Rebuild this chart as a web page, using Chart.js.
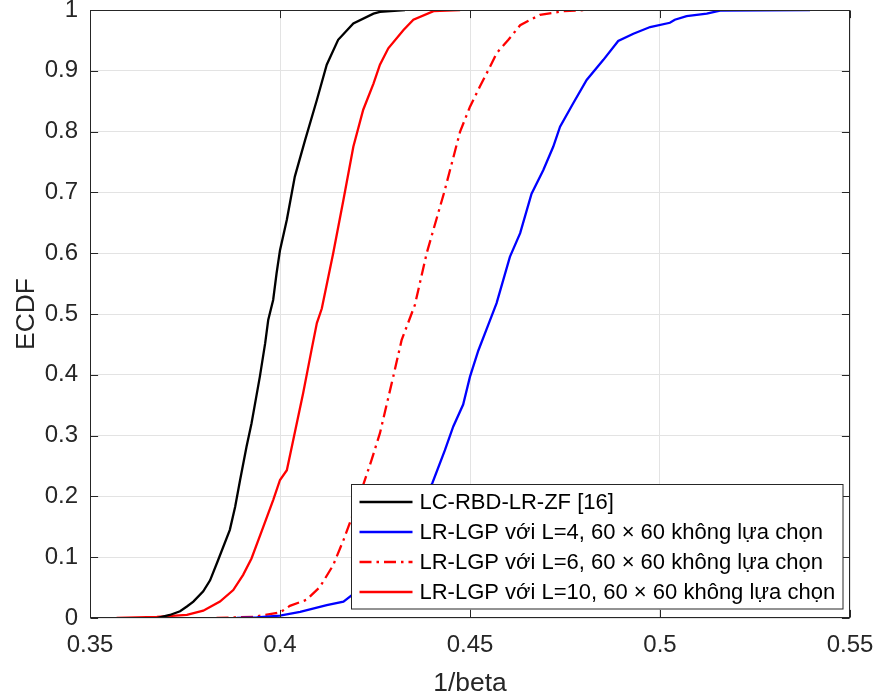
<!DOCTYPE html>
<html>
<head>
<meta charset="utf-8">
<script src="https://cdn.jsdelivr.net/npm/chart.js@4"></script>
<style>
  body { margin: 0; background: #fff; }
</style>
</head>
<body>
<canvas id="chart" width="876" height="697"></canvas>
<script>
const ctx = document.querySelector('#chart')

const x_ticks = [0.35, 0.4, 0.45, 0.5, 0.55]
const x_tick_labels = ['0.35', '0.4', '0.45', '0.5', '0.55']
const y_ticks = [0, 0.1, 0.2, 0.3, 0.4, 0.5, 0.6, 0.7, 0.8, 0.9, 1]
const y_tick_labels = ['0', '0.1', '0.2', '0.3', '0.4', '0.5', '0.6', '0.7', '0.8', '0.9', '1']

const series_names = [
    'LC-RBD-LR-ZF [16]',
    'LR-LGP với L=4, 60 × 60 không lựa chọn',
    'LR-LGP với L=6, 60 × 60 không lựa chọn',
    'LR-LGP với L=10, 60 × 60 không lựa chọn',
]

// LC-RBD-LR-ZF [16]
const zf_x = [0.3676, 0.3710, 0.3737, 0.3755, 0.3772, 0.3798, 0.3816, 0.3837, 0.3868, 0.3882, 0.3895, 0.3912, 0.3925, 0.3947, 0.3961, 0.3969, 0.3982, 0.3991, 0.4000, 0.4018, 0.4039, 0.4066, 0.4097, 0.4123, 0.4153, 0.4193, 0.4246, 0.4263, 0.4329]
const zf_y = [0, 0.005, 0.011, 0.019, 0.027, 0.044, 0.062, 0.095, 0.145, 0.183, 0.227, 0.282, 0.320, 0.397, 0.452, 0.490, 0.523, 0.567, 0.605, 0.655, 0.726, 0.786, 0.852, 0.910, 0.951, 0.978, 0.994, 0.997, 1.0]

// L=4
const l4_x = [0.3886, 0.3939, 0.4000, 0.4053, 0.4123, 0.4167, 0.4190, 0.4220, 0.4280, 0.4335, 0.4380, 0.4401, 0.4434, 0.4456, 0.4482, 0.4500, 0.4522, 0.4548, 0.4570, 0.4605, 0.4632, 0.4662, 0.4693, 0.4719, 0.4737, 0.4772, 0.4807, 0.4851, 0.4890, 0.4930, 0.4974, 0.5026, 0.5039, 0.5070, 0.5123, 0.5158, 0.5395]
const l4_y = [0, 0.001, 0.004, 0.010, 0.021, 0.027, 0.038, 0.055, 0.100, 0.150, 0.200, 0.222, 0.276, 0.315, 0.351, 0.397, 0.440, 0.482, 0.518, 0.594, 0.633, 0.698, 0.737, 0.775, 0.808, 0.847, 0.885, 0.918, 0.949, 0.961, 0.972, 0.979, 0.984, 0.990, 0.994, 0.999, 1.0]

// L=6
const l6_x = [0.3833, 0.3930, 0.4000, 0.4026, 0.4070, 0.4105, 0.4140, 0.4167, 0.4193, 0.4219, 0.4241, 0.4263, 0.4298, 0.4320, 0.4355, 0.4386, 0.4432, 0.4474, 0.4500, 0.4526, 0.4553, 0.4570, 0.4601, 0.4632, 0.4684, 0.4746, 0.4807]
const l6_y = [0, 0.002, 0.009, 0.020, 0.030, 0.051, 0.087, 0.128, 0.172, 0.219, 0.260, 0.304, 0.397, 0.457, 0.515, 0.600, 0.700, 0.800, 0.841, 0.874, 0.907, 0.929, 0.951, 0.975, 0.992, 0.998, 1.0]

// L=10
const l10_x = [0.3570, 0.3676, 0.3755, 0.3798, 0.3842, 0.3877, 0.3903, 0.3925, 0.3956, 0.3982, 0.4000, 0.4018, 0.4035, 0.4061, 0.4083, 0.4097, 0.4110, 0.4140, 0.4167, 0.4193, 0.4219, 0.4246, 0.4263, 0.4285, 0.4325, 0.4351, 0.4404, 0.4474]
const l10_y = [0, 0.002, 0.005, 0.012, 0.027, 0.046, 0.071, 0.098, 0.150, 0.194, 0.227, 0.243, 0.293, 0.370, 0.441, 0.485, 0.509, 0.600, 0.688, 0.775, 0.836, 0.879, 0.910, 0.937, 0.967, 0.984, 0.998, 1.0]

const font_family = '"Liberation Sans", Arial, Helvetica, sans-serif'
const axis_color = '#262626'

function to_points(xs, ys) {
    return xs.map((x, i) => { return { x: x, y: ys[i] } })
}

function make_dataset(label, xs, ys, color, dash) {
    return {
        label: label,
        data: to_points(xs, ys),
        borderColor: color,
        backgroundColor: color,
        borderWidth: 2.3,
        borderDash: dash,
        showLine: true,
        pointRadius: 0,
        tension: 0,
    }
}

// box round the axes, inward tick marks, legend inside the plot
const axes_box = {
    id: 'axes_box',
    afterDraw(chart) {
        const c = chart.ctx
        const area = chart.chartArea
        const xs = chart.scales.x
        const ys = chart.scales.y
        const tick = 7.6

        c.save()
        c.strokeStyle = axis_color
        c.lineWidth = 1
        c.setLineDash([])
        const l = Math.round(area.left) + 0.5
        const r = Math.round(area.right) - 0.5
        const t = Math.round(area.top) + 0.5
        const b = Math.round(area.bottom) - 0.5
        c.strokeRect(l, t, r - l, b - t)

        c.beginPath()
        x_ticks.forEach((v) => {
            const px = Math.round(xs.getPixelForValue(v)) + 0.5
            c.moveTo(px, b)
            c.lineTo(px, b - tick)
            c.moveTo(px, t)
            c.lineTo(px, t + tick)
        })
        y_ticks.forEach((v) => {
            const py = Math.round(ys.getPixelForValue(v)) + 0.5
            c.moveTo(l, py)
            c.lineTo(l + tick, py)
            c.moveTo(r, py)
            c.lineTo(r - tick, py)
        })
        c.stroke()

        // legend
        c.font = '22px ' + font_family
        const sets = chart.data.datasets
        let max_w = 0
        sets.forEach((d) => {
            max_w = Math.max(max_w, c.measureText(d.label).width)
        })
        const box_w = 68 + max_w + 8
        const box_h = 125
        const box_r = area.right - 7
        const box_b = area.bottom - 9
        const box_l = Math.round(box_r - box_w) + 0.5
        const box_t = Math.round(box_b - box_h) + 0.5

        c.fillStyle = '#ffffff'
        c.fillRect(box_l, box_t, box_r - box_l, box_b - box_t)
        c.strokeStyle = axis_color
        c.lineWidth = 1
        c.strokeRect(box_l, box_t, Math.round(box_r) - box_l, Math.round(box_b) - box_t)

        sets.forEach((d, i) => {
            const cy = box_t + 17.5 + i * 30
            c.strokeStyle = d.borderColor
            c.lineWidth = d.borderWidth
            c.setLineDash(d.borderDash || [])
            c.beginPath()
            c.moveTo(box_l + 8, cy)
            c.lineTo(box_l + 61, cy)
            c.stroke()
            c.setLineDash([])
            c.fillStyle = '#000000'
            c.textBaseline = 'middle'
            c.textAlign = 'left'
            c.fillText(d.label, box_l + 68, cy + 1)
        })
        c.restore()
    }
}

const chart = new Chart(ctx, {
    type: 'scatter',
    data: {
        datasets: [
            make_dataset(series_names[0], zf_x, zf_y, '#000000', []),
            make_dataset(series_names[1], l4_x, l4_y, '#0000ff', []),
            make_dataset(series_names[2], l6_x, l6_y, '#ff0000', [12, 5, 2.5, 5]),
            make_dataset(series_names[3], l10_x, l10_y, '#ff0000', []),
        ],
    },
    options: {
        responsive: false,
        animation: false,
        devicePixelRatio: 1,
        layout: {
            padding: { top: 10, right: 26, left: 0, bottom: 0 },
        },
        plugins: {
            legend: { display: false },
            tooltip: { enabled: false },
        },
        scales: {
            x: {
                type: 'linear',
                min: 0.35,
                max: 0.55,
                afterBuildTicks: (axis) => {
                    axis.ticks = x_ticks.map((v) => { return { value: v } })
                },
                afterFit: (axis) => {
                    axis.height = 79
                    axis.paddingLeft = 0
                    axis.paddingRight = 0
                },
                ticks: {
                    padding: 13,
                    color: axis_color,
                    font: { family: font_family, size: 24 },
                    maxRotation: 0,
                    callback: (value, index) => x_tick_labels[index],
                },
                grid: {
                    color: '#e3e3e3',
                    drawTicks: false,
                },
                border: { display: false },
                title: {
                    display: true,
                    text: '1/beta',
                    color: axis_color,
                    font: { family: font_family, size: 26.4, lineHeight: 1.0 },
                    padding: { top: 0, bottom: 0 },
                },
            },
            y: {
                type: 'linear',
                min: 0,
                max: 1,
                afterBuildTicks: (axis) => {
                    axis.ticks = y_ticks.map((v) => { return { value: v } })
                },
                afterFit: (axis) => {
                    axis.width = 90
                    axis.paddingTop = 0
                    axis.paddingBottom = 0
                },
                ticks: {
                    padding: 12,
                    color: axis_color,
                    font: { family: font_family, size: 24 },
                    callback: (value, index) => y_tick_labels[index],
                },
                grid: {
                    color: '#e3e3e3',
                    drawTicks: false,
                },
                border: { display: false },
                title: {
                    display: true,
                    text: 'ECDF',
                    color: axis_color,
                    font: { family: font_family, size: 26.4 },
                    padding: { top: 11, bottom: 0 },
                },
            },
        },
    },
    plugins: [axes_box],
})
</script>
</body>
</html>
